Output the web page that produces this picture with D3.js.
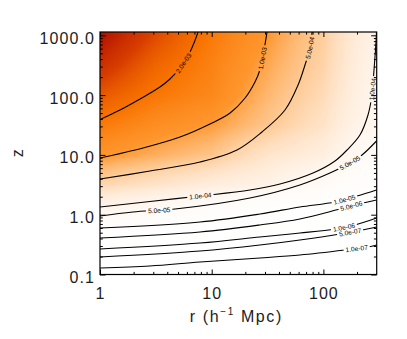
<!DOCTYPE html>
<html><head><meta charset="utf-8">
<script src="https://cdn.jsdelivr.net/npm/d3@7"></script>
<style>
body{margin:0;background:#fff;}
svg{display:block;}
text{font-family:"Liberation Sans",Arial,Helvetica,sans-serif;}
</style>
</head><body>
<div id="chart"></div>
<script>
// ---------------- data ----------------
const rGrid = [1, 3.16, 10, 31.6, 100, 300];
const zGrid = [0.1, 0.316, 1, 3.16, 10, 31.6, 100, 316, 1000];
// log10 of the plotted quantity at (zGrid row, rGrid column)
const logValueGrid = [
  [-7.3, -7.3, -7.2, -7.2, -7.3, -7.6],
  [-5.7, -5.9, -5.9, -5.8, -6.0, -6.9],
  [-4.25, -4.5, -4.8, -5.2, -5.4, -5.9],
  [-3.43, -3.6, -3.8, -3.98, -4.4, -4.95],
  [-2.97, -3.12, -3.27, -3.62, -3.85, -4.52],
  [-2.74, -2.9, -3.02, -3.28, -3.6, -4.22],
  [-2.52, -2.72, -2.85, -3.17, -3.48, -4.13],
  [-2.3, -2.6, -2.8, -3.08, -3.4, -4.06],
  [-2.12, -2.45, -2.74, -3.0, -3.35, -4.0]
];
const colorValues = [0, 1e-4, 3e-4, 5e-4, 1e-3, 2e-3, 4e-3, 8e-3];
const colorStops = ["rgb(255,255,255)", "rgb(255,243,232)", "rgb(255,222,190)", "rgb(255,200,145)",
                    "rgb(255,150,45)", "rgb(248,115,0)", "rgb(215,60,0)", "rgb(170,10,0)"];

const contourLevels = ["2.0e-03", "1.0e-03", "5.0e-04", "1.0e-04", "5.0e-05", "1.0e-05", "5.0e-06", "1.0e-06", "5.0e-07", "1.0e-07"];
const contour2e3 = [[1,39.1],[1.51,56.3],[2.28,86.1],[3.44,136.6],[4.23,185.9],[5.20,284],[6.13,450.6],[6.94,743],[7.54,1136]];
const contour1e3 = [[1,8.87],[2.43,13.05],[5.2,19.9],[9.65,32.9],[14.6,50.2],[19.9,89.4],[24.4,165.6],[27.0,263],[29.4,568],[31.3,1136]];
const contour5e4 = [[1,3.95],[2.8,5.38],[7.86,7.61],[16.85,12.08],[28.2,24.2],[45.3,56.3],[59.3,147.5],[68.4,318.6],[75.9,613],[79.1,1136]];
const contour1e4 = [[1,1.345],[2.8,1.663],[7.86,2.055],[22,2.588],[40.9,3.262],[80.7,4.98],[127,7.91],[162.7,12.08],[212.3,21.5],[250.7,46.5],[272,100.4],[283.8,262.8],[292.7,568],[298.8,1136]];
const contour5e5 = [[1,0.951],[1.97,1.11],[4.69,1.245],[22,1.902],[61.6,3.14],[114.4,4.98],[172.7,7.32],[221.6,9.96],[298.8,17.08]];
const contour1e5 = [[1,0.599],[7.86,0.755],[27,1.027],[61.6,1.345],[127,1.631],[199.9,2.055],[298.8,2.588]];
const contour5e6 = [[1,0.408],[7.86,0.514],[27,0.673],[61.6,0.848],[140.6,1.245],[226,1.569],[298.8,1.761]];
const contour1e6 = [[1,0.267],[7.86,0.336],[27,0.424],[61.6,0.494],[127,0.577],[191.8,0.673],[298.8,0.881]];
const contour5e7 = [[1,0.196],[7.86,0.247],[27,0.311],[61.6,0.378],[140.6,0.476],[221.6,0.555],[298.8,0.623]];
const contour1e7 = [[1,0.1285],[2.8,0.139],[7.86,0.162],[27,0.189],[61.6,0.212],[156.1,0.257],[250.7,0.288],[298.8,0.311]];
const contourLines = [contour2e3, contour1e3, contour5e4, contour1e4, contour5e5, contour1e5, contour5e6, contour1e6, contour5e7, contour1e7];

// label: [contour index, r, z]
const contourLabels = [
  [0, 5.59, 344], [1, 28.5, 409], [2, 74.3, 625], [3, 272, 126.5], [3, 7.94, 2.015],
  [4, 3.375, 1.198], [4, 176.6, 6.86], [5, 156.1, 1.695], [6, 176.6, 1.453],
  [7, 152.9, 0.599], [8, 172.7, 0.514], [9, 198.7, 0.274]
];

const xMajorTicks = [1, 10, 100];
const xTickLabels = ["1", "10", "100"];
const xMinorTicks = [2,3,4,5,6,7,8,9,20,30,40,50,60,70,80,90,200];
const yMajorTicks = [0.1, 1, 10, 100, 1000];
const yTickLabels = ["0.1", "1.0", "10.0", "100.0", "1000.0"];
const yMinorTicks = [0.2,0.3,0.4,0.5,0.6,0.7,0.8,0.9,2,3,4,5,6,7,8,9,20,30,40,50,60,70,80,90,200,300,400,500,600,700,800,900];

// ---------------- layout ----------------
const W = 407, H = 339;
const L = 100, R = 376.7, T = 32, B = 274.5;
const x = d3.scaleLog().domain([1, 300]).range([L, R]);
const y = d3.scaleLog().domain([0.1, 1136]).range([B, T]);
const color = d3.scaleLinear().domain(colorValues).range(colorStops).clamp(true);
const TXT = "#1c1c1c";

const svg = d3.select("#chart").append("svg").attr("width", W).attr("height", H);

// ---------------- heatmap ----------------
const pw = Math.round(R - L), ph = Math.round(B - T);
const canvas = document.createElement("canvas");
canvas.width = pw; canvas.height = ph;
const ctx = canvas.getContext("2d");
const img = ctx.createImageData(pw, ph);
const lr = rGrid.map(Math.log10), lz = zGrid.map(Math.log10);
function locate(arr, v) {
  let i = 0;
  while (i < arr.length - 2 && v > arr[i + 1]) i++;
  let t = (v - arr[i]) / (arr[i + 1] - arr[i]);
  return [i, Math.max(0, Math.min(1, t))];
}
for (let py = 0; py < ph; py++) {
  const zv = Math.log10(y.invert(T + py + 0.5));
  const [j, tz] = locate(lz, zv);
  for (let px = 0; px < pw; px++) {
    const rv = Math.log10(x.invert(L + px + 0.5));
    const [i, tr] = locate(lr, rv);
    const g = logValueGrid;
    const v = (1 - tz) * ((1 - tr) * g[j][i] + tr * g[j][i + 1]) + tz * ((1 - tr) * g[j + 1][i] + tr * g[j + 1][i + 1]);
    const c = d3.rgb(color(Math.pow(10, v)));
    const k = (py * pw + px) * 4;
    img.data[k] = c.r; img.data[k + 1] = c.g; img.data[k + 2] = c.b; img.data[k + 3] = 255;
  }
}
ctx.putImageData(img, 0, 0);
svg.append("image").attr("x", L).attr("y", T).attr("width", pw).attr("height", ph)
  .attr("preserveAspectRatio", "none").attr("href", canvas.toDataURL());

// ---------------- contours ----------------
const defs = svg.append("defs");
defs.append("clipPath").attr("id", "plotclip").append("rect")
  .attr("x", L).attr("y", T).attr("width", R - L).attr("height", B - T);
const mask = defs.append("mask").attr("id", "labelmask").attr("maskUnits", "userSpaceOnUse")
  .attr("x", 0).attr("y", 0).attr("width", W).attr("height", H);
mask.append("rect").attr("x", 0).attr("y", 0).attr("width", W).attr("height", H).attr("fill", "#fff");

const line = d3.line().x(d => x(d[0])).y(d => y(d[1])).curve(d3.curveCatmullRom.alpha(0.5));
const cg = svg.append("g").attr("clip-path", "url(#plotclip)").append("g").attr("mask", "url(#labelmask)");
const paths = contourLines.map(pts => cg.append("path").attr("d", line(pts))
  .attr("fill", "none").attr("stroke", "#000").attr("stroke-width", 1.1).node());

const lg = svg.append("g");
contourLabels.forEach(([ci, r, z]) => {
  const p = paths[ci];
  const len = p.getTotalLength();
  const tx = x(r), ty = y(z);
  let best = 0, bd = Infinity;
  for (let s = 0; s <= len; s += 0.5) {
    const q = p.getPointAtLength(s);
    const d = (q.x - tx) ** 2 + (q.y - ty) ** 2;
    if (d < bd) { bd = d; best = s; }
  }
  const q = p.getPointAtLength(best);
  const a0 = p.getPointAtLength(Math.max(0, best - 6)), a1 = p.getPointAtLength(Math.min(len, best + 6));
  let ang = Math.atan2(a1.y - a0.y, a1.x - a0.x) * 180 / Math.PI;
  if (ang > 90) ang -= 180;
  if (ang < -90) ang += 180;
  const t = lg.append("text").attr("transform", `translate(${q.x},${q.y}) rotate(${ang})`)
    .attr("text-anchor", "middle").attr("dy", "0.35em")
    .attr("font-size", 6.6).attr("fill", "#000").text(contourLevels[ci]);
  const w = t.node().getComputedTextLength();
  mask.append("rect").attr("x", -w / 2 - 2).attr("y", -4).attr("width", w + 4).attr("height", 8)
    .attr("fill", "#000").attr("transform", `translate(${q.x},${q.y}) rotate(${ang})`);
});

// ---------------- axes ----------------
function styleAxis(g) {
  g.select(".domain").remove();
  g.selectAll(".tick line").attr("stroke", "#000").attr("stroke-width", 1);
}
svg.append("g").attr("transform", `translate(0,${B})`)
  .call(d3.axisBottom(x).tickValues(xMinorTicks).tickSize(-2.6).tickFormat("")).call(styleAxis);
svg.append("g").attr("transform", `translate(0,${B})`)
  .call(d3.axisBottom(x).tickValues(xMajorTicks).tickSize(-5).tickPadding(13)
    .tickFormat((d, i) => xTickLabels[i])).call(styleAxis)
  .selectAll("text").attr("font-size", 16).attr("fill", TXT).attr("letter-spacing", 1);
svg.append("g").attr("transform", `translate(0,${T})`)
  .call(d3.axisTop(x).tickValues(xMinorTicks).tickSize(-2.6).tickFormat("")).call(styleAxis);
svg.append("g").attr("transform", `translate(0,${T})`)
  .call(d3.axisTop(x).tickValues(xMajorTicks).tickSize(-5).tickFormat("")).call(styleAxis);

svg.append("g").attr("transform", `translate(${L},0)`)
  .call(d3.axisLeft(y).tickValues(yMinorTicks).tickSize(-2.8).tickFormat("")).call(styleAxis);
svg.append("g").attr("transform", `translate(${L},0)`)
  .call(d3.axisLeft(y).tickValues(yMajorTicks).tickSize(-5.5).tickPadding(5)
    .tickFormat((d, i) => yTickLabels[i])).call(styleAxis)
  .selectAll("text").attr("font-size", 16).attr("fill", TXT).attr("letter-spacing", 1.1).attr("dy", "0.5em");
svg.append("g").attr("transform", `translate(${R},0)`)
  .call(d3.axisRight(y).tickValues(yMinorTicks).tickSize(-2.8).tickFormat("")).call(styleAxis);
svg.append("g").attr("transform", `translate(${R},0)`)
  .call(d3.axisRight(y).tickValues(yMajorTicks).tickSize(-5.5).tickFormat("")).call(styleAxis);

svg.append("rect").attr("x", L).attr("y", T).attr("width", R - L).attr("height", B - T)
  .attr("fill", "none").attr("stroke", "#000").attr("stroke-width", 1.2);

// titles
const xt = svg.append("text").attr("x", (L + R) / 2 - 2).attr("y", 321.5).attr("text-anchor", "middle")
  .attr("font-size", 16).attr("letter-spacing", 1.6).attr("fill", TXT);
xt.append("tspan").text("r (h");
xt.append("tspan").attr("font-size", 10).attr("dy", -7).text("−1");
xt.append("tspan").attr("dy", 7).text(" Mpc)");
svg.append("text").attr("transform", `translate(23,${(T + B) / 2}) rotate(-90)`)
  .attr("text-anchor", "middle").attr("font-size", 16).attr("fill", TXT).text("z");
</script>
</body></html>
